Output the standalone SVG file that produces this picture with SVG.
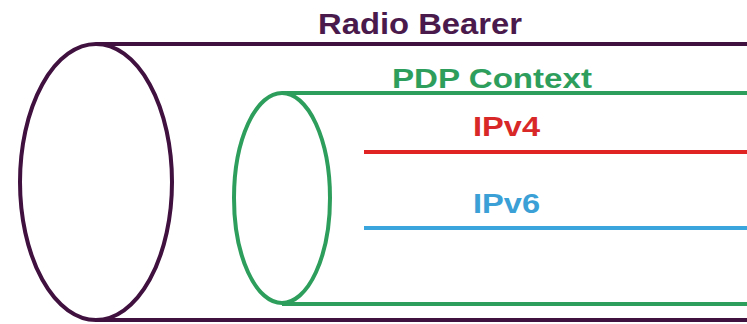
<svg xmlns="http://www.w3.org/2000/svg" width="747" height="324" viewBox="0 0 747 324">
<style>
.t{font-family:"Liberation Sans",Arial,sans-serif;font-weight:bold}
.rb{stroke:#40103f;stroke-width:4;fill:none}
.pdp{stroke:#2e9e5c;stroke-width:4;fill:none}
</style>
<rect width="747" height="324" fill="#fff"/>
<g id="radio-bearer">
<line class="rb" x1="96" y1="44" x2="747" y2="44"/>
<line class="rb" x1="96" y1="320" x2="747" y2="320"/>
<ellipse class="rb" cx="96" cy="182" rx="76" ry="138"/>
<text class="t" x="318" y="34" font-size="29" fill="#4a1a4c" textLength="204" lengthAdjust="spacingAndGlyphs">Radio Bearer</text>
</g>
<g id="pdp-context">
<line class="pdp" x1="282" y1="93" x2="747" y2="93"/>
<line class="pdp" x1="282" y1="304" x2="747" y2="304"/>
<ellipse class="pdp" cx="282" cy="198" rx="48" ry="105"/>
<text class="t" x="392" y="88" font-size="27" fill="#2e9e5c" textLength="200" lengthAdjust="spacingAndGlyphs">PDP Context</text>
</g>
<g id="connectors">
<g id="ipv4">
<line x1="364" y1="152" x2="747" y2="152" stroke="#e02424" stroke-width="4"/>
<text class="t" x="473" y="136" font-size="27" fill="#d82828" textLength="67" lengthAdjust="spacingAndGlyphs">IPv4</text>
</g>
<g id="ipv6">
<line x1="364" y1="228" x2="747" y2="228" stroke="#3aa4dc" stroke-width="4"/>
<text class="t" x="473" y="213" font-size="27" fill="#3aa0d6" textLength="67" lengthAdjust="spacingAndGlyphs">IPv6</text>
</g>
</g>
</svg>
